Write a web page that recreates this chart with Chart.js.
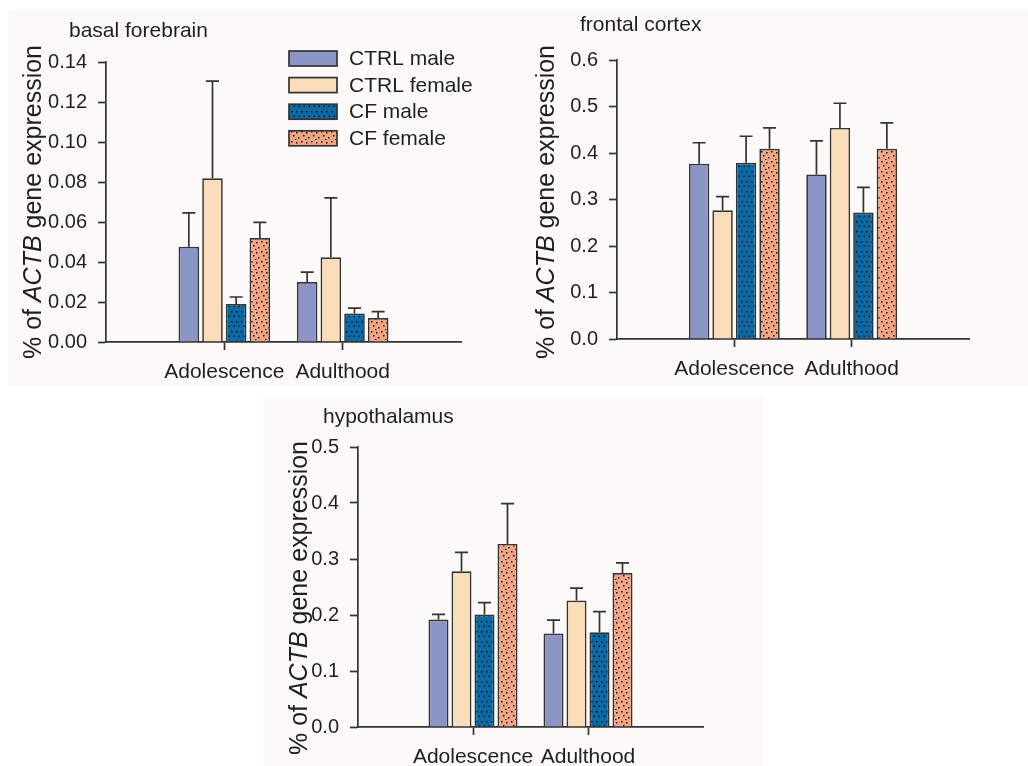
<!DOCTYPE html>
<html><head><meta charset="utf-8">
<script src="https://cdn.jsdelivr.net/npm/chart.js@4.4.1/dist/chart.umd.min.js"></script>
<style>
html,body{margin:0;padding:0;background:#fff;width:1028px;height:766px;overflow:hidden;}
.bg{position:absolute;background:#fbfaf8;}
.panel{position:absolute;}
canvas{display:block;}
</style></head><body>
<div class="bg" style="left:8px;top:10px;width:1020px;height:375px"></div>
<div class="bg" style="left:263px;top:398px;width:500px;height:368px"></div>
<div class="panel" style="left:0px;top:0px;"><canvas id="c1" width="500" height="390"></canvas></div>
<div class="panel" style="left:500px;top:0px;"><canvas id="c2" width="528" height="390"></canvas></div>
<div class="panel" style="left:260px;top:390px;"><canvas id="c3" width="540" height="376"></canvas></div>
<script>
// ---------- DATA ----------
const categories = ['Adolescence', 'Adulthood'];
const seriesNames = ['CTRL male', 'CTRL female', 'CF male', 'CF female'];

// basal forebrain
const bfCtrlMale = [0.0476, 0.0300];
const bfCtrlMaleErr = [0.0170, 0.0049];
const bfCtrlFemale = [0.0819, 0.0424];
const bfCtrlFemaleErr = [0.0485, 0.0297];
const bfCfMale = [0.0190, 0.0142];
const bfCfMaleErr = [0.0035, 0.0027];
const bfCfFemale = [0.0520, 0.0120];
const bfCfFemaleErr = [0.0078, 0.0032];
const bfTicks = [0, 0.02, 0.04, 0.06, 0.08, 0.10, 0.12, 0.14];

// frontal cortex
const fcCtrlMale = [0.377, 0.354];
const fcCtrlMaleErr = [0.045, 0.072];
const fcCtrlFemale = [0.277, 0.454];
const fcCtrlFemaleErr = [0.029, 0.053];
const fcCfMale = [0.379, 0.272];
const fcCfMaleErr = [0.057, 0.054];
const fcCfFemale = [0.409, 0.409];
const fcCfFemaleErr = [0.045, 0.056];
const fcTicks = [0, 0.1, 0.2, 0.3, 0.4, 0.5, 0.6];

// hypothalamus
const hyCtrlMale = [0.192, 0.167];
const hyCtrlMaleErr = [0.009, 0.024];
const hyCtrlFemale = [0.278, 0.226];
const hyCtrlFemaleErr = [0.034, 0.022];
const hyCfMale = [0.201, 0.169];
const hyCfMaleErr = [0.021, 0.037];
const hyCfFemale = [0.327, 0.275];
const hyCfFemaleErr = [0.072, 0.018];
const hyTicks = [0, 0.1, 0.2, 0.3, 0.4, 0.5];

// ---------- STYLE ----------
const FONT = '"Liberation Sans", Arial, Helvetica, sans-serif';
const TEXT = '#1f1f1f';
const AXIS = '#333333';
const LW = 1.7;

function makePattern(bg, dots, size) {
  const c = document.createElement('canvas');
  c.width = size; c.height = size;
  const g = c.getContext('2d');
  g.fillStyle = bg; g.fillRect(0, 0, size, size);
  g.fillStyle = '#111111';
  dots.forEach(([x, y]) => g.fillRect(x, y, 1.5, 1.5));
  return g.createPattern(c, 'repeat');
}
const fills = [
  '#8b95c5',
  '#f9dcb8',
  makePattern('#0b6aa5', [[1,1],[6,1],[3.5,5.5],[8.5,5.5]], 10),
  makePattern('#f4a582', [[1,1],[6,2],[3,5],[8,7],[5,9]], 10)
];

const pad = arr => [null, ...arr, null];

// error bar plugin
const errorBars = {
  id: 'errorBars',
  afterDatasetsDraw(chart, args, opts) {
    const errs = opts.errors; if (!errs) return;
    const ys = chart.scales.y; const ctx = chart.ctx;
    ctx.save();
    ctx.strokeStyle = AXIS; ctx.lineWidth = LW;
    chart.data.datasets.forEach((ds, i) => {
      const meta = chart.getDatasetMeta(i);
      meta.data.forEach((el, j) => {
        const v = ds.data[j]; const e = errs[i][j];
        if (v == null || e == null) return;
        const yT = ys.getPixelForValue(v + e);
        ctx.beginPath();
        ctx.moveTo(el.x, el.y); ctx.lineTo(el.x, yT);
        ctx.moveTo(el.x - 6.5, yT); ctx.lineTo(el.x + 6.5, yT);
        ctx.stroke();
      });
    });
    ctx.restore();
  }
};

// titles + y axis title (mixed italic)
const decor = {
  id: 'decor',
  afterDraw(chart, args, opts) {
    if (!opts.title) return;
    const ctx = chart.ctx;
    ctx.save();
    ctx.fillStyle = TEXT;
    ctx.font = '21px ' + FONT;
    ctx.textAlign = 'left'; ctx.textBaseline = 'alphabetic';
    ctx.fillText(opts.title, opts.titleX, opts.titleY);
    const parts = [['% of ', false], ['ACTB', true], [' gene expression', false]];
    const f = it => (it ? 'italic ' : '') + '25px ' + FONT;
    let total = 0;
    parts.forEach(([t, it]) => { ctx.font = f(it); total += ctx.measureText(t).width; });
    ctx.translate(opts.yTitleX, opts.yTitleY);
    ctx.rotate(-Math.PI / 2);
    ctx.textBaseline = 'middle';
    let x = -total / 2;
    parts.forEach(([t, it]) => { ctx.font = f(it); ctx.fillText(t, x, 0); x += ctx.measureText(t).width; });
    ctx.restore();
  }
};

// legend (panel 1)
const boxLegend = {
  id: 'boxLegend',
  afterDraw(chart, args, opts) {
    if (!opts.show) return;
    const ctx = chart.ctx;
    ctx.save();
    chart.data.datasets.forEach((ds, i) => {
      const top = opts.y0 + i * opts.dy;
      ctx.fillStyle = ds.backgroundColor;
      ctx.fillRect(opts.x, top, opts.w, opts.h);
      ctx.strokeStyle = AXIS; ctx.lineWidth = LW;
      ctx.strokeRect(opts.x, top, opts.w, opts.h);
      ctx.fillStyle = TEXT;
      ctx.font = '21px ' + FONT;
      ctx.textBaseline = 'middle'; ctx.textAlign = 'left';
      ctx.fillText(ds.label, opts.textX, top + opts.h / 2 + 1);
    });
    ctx.restore();
  }
};

function buildChart(id, series, errs, ticks, dec, geom, decorOpts, legendOpts) {
  const datasets = series.map((s, i) => ({
    label: seriesNames[i],
    data: pad(s),
    backgroundColor: fills[i],
    borderColor: AXIS,
    borderWidth: LW,
    categoryPercentage: 0.8,
    barPercentage: 0.87
  }));
  return new Chart(document.getElementById(id), {
    type: 'bar',
    data: { labels: pad(categories).map(v => v == null ? '' : v), datasets },
    plugins: [errorBars, decor, boxLegend],
    options: {
      responsive: false,
      animation: false,
      devicePixelRatio: 1,
      layout: { padding: { left: geom.left, top: geom.top, right: geom.right, bottom: 0 } },
      plugins: {
        legend: { display: false },
        tooltip: { enabled: false },
        errorBars: { errors: errs.map(pad) },
        decor: decorOpts,
        boxLegend: legendOpts || { show: false }
      },
      scales: {
        x: {
          type: 'category',
          offset: false,
          grid: {
            offset: false,
            drawOnChartArea: false, tickLength: 8, tickWidth: LW,
            tickColor: c => (c.index === 1 || c.index === 2) ? AXIS : 'rgba(0,0,0,0)'
          },
          border: { color: AXIS, width: LW },
          ticks: { font: { family: FONT, size: 21 }, color: TEXT, padding: 10, maxRotation: 0, autoSkip: false },
          afterFit: s => { s.height = geom.xh; }
        },
        y: {
          min: ticks[0], max: ticks[ticks.length - 1],
          grid: { drawOnChartArea: false, tickLength: 8, tickWidth: LW, tickColor: AXIS },
          border: { color: AXIS, width: LW },
          ticks: { font: { family: FONT, size: 20 }, color: TEXT, padding: 11, callback: v => Number(v).toFixed(dec) },
          afterBuildTicks: s => { s.ticks = ticks.map(v => ({ value: v })); },
          afterFit: s => { s.width = 60; }
        }
      }
    }
  });
}

buildChart('c1',
  [bfCtrlMale, bfCtrlFemale, bfCfMale, bfCfFemale],
  [bfCtrlMaleErr, bfCtrlFemaleErr, bfCfMaleErr, bfCfFemaleErr],
  bfTicks, 2,
  { left: 46, top: 62, right: 39, xh: 48 },
  { title: 'basal forebrain', titleX: 69, titleY: 37, yTitleX: 34, yTitleY: 202 },
  { show: true, x: 289, y0: 51, dy: 26.6, w: 48, h: 15, textX: 349 });

buildChart('c2',
  [fcCtrlMale, fcCtrlFemale, fcCfMale, fcCfFemale],
  [fcCtrlMaleErr, fcCtrlFemaleErr, fcCfMaleErr, fcCfFemaleErr],
  fcTicks, 1,
  { left: 57, top: 60, right: 59, xh: 51 },
  { title: 'frontal cortex', titleX: 80, titleY: 31, yTitleX: 47, yTitleY: 202 });

buildChart('c3',
  [hyCtrlMale, hyCtrlFemale, hyCfMale, hyCfFemale],
  [hyCtrlMaleErr, hyCtrlFemaleErr, hyCfMaleErr, hyCfFemaleErr],
  hyTicks, 1,
  { left: 38, top: 57, right: 97, xh: 39 },
  { title: 'hypothalamus', titleX: 63, titleY: 33, yTitleX: 40, yTitleY: 208 });
</script>
</body></html>
